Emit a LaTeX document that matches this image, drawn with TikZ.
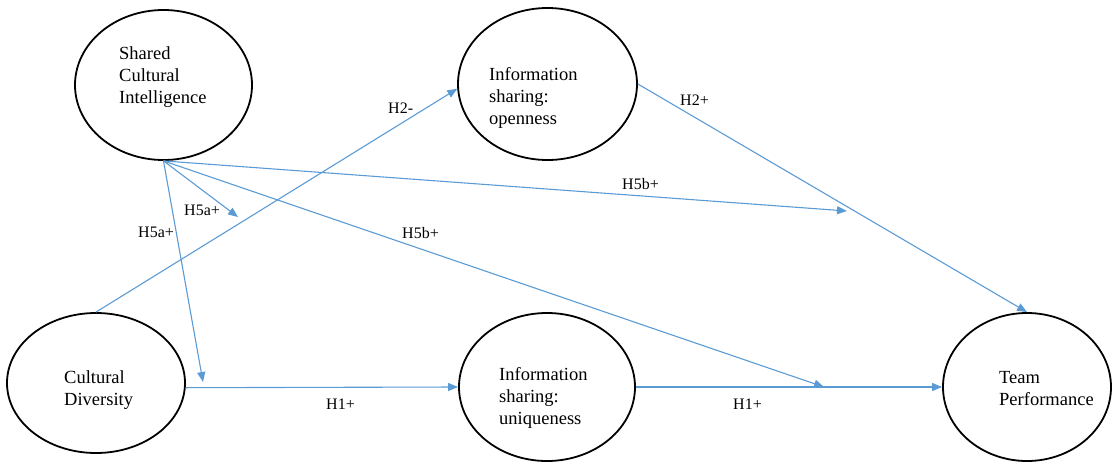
\documentclass[tikz,border=0pt]{standalone}
\usepackage{fontspec}
\setmainfont{Liberation Serif}
\usetikzlibrary{shapes.geometric,arrows.meta}
\definecolor{linkblue}{RGB}{91,155,213}
\tikzset{
  construct/.style={ellipse,draw=black,line width=1.8pt,inner sep=0pt},
  ctext/.style={anchor=west,inner sep=0pt,align=left,font=\fontsize{18.5}{22}\selectfont},
  hyp/.style={anchor=base west,inner sep=0pt,font=\fontsize{16}{19}\selectfont},
  link/.style={draw=linkblue,line width=1.1pt,-{Triangle[length=10pt,width=8pt]}}
}
\begin{document}
\begin{tikzpicture}[x=1pt,y=-1pt]
\useasboundingbox (0,0) rectangle (1112,464);
% constructs
\node[construct,minimum width=177pt,minimum height=150pt] (sci) at (163.5,85) {};
\node[construct,minimum width=179pt,minimum height=152pt] (open) at (547.5,84) {};
\node[construct,minimum width=178pt,minimum height=140pt] (cd) at (96,383) {};
\node[construct,minimum width=176pt,minimum height=148pt] (uniq) at (547,387) {};
\node[construct,minimum width=168pt,minimum height=148pt] (tp) at (1027,387) {};
% texts
\node[ctext] (sciT) at (119,76.6) {\strut Shared\\Cultural\\Intelligence\strut};
\node[ctext] (openT) at (489,97.6) {\strut Information\\sharing:\\openness\strut};
\node[ctext] (cdT) at (64,389.6) {\strut Cultural\\Diversity\strut};
\node[ctext] (uniqT) at (499,397.6) {\strut Information\\sharing:\\uniqueness\strut};
\node[ctext] (tpT) at (999,389.6) {\strut Team\\Performance\strut};
% moderation targets
\coordinate (t5a1) at (203,382);
\coordinate (t5a2) at (238,217);
\coordinate (t5b1) at (847,211);
\coordinate (t5b2) at (824,387);
% connectors
\draw[link] (cd.north) -- (open.183);
\draw[link] (open.east) -- (tp.north);
\draw[link] (cd.-3) -- (uniq.west);
\draw[link] (uniq.east) -- (tp.west);
\draw[link] (sci.south) -- (t5a1);
\draw[link] (sci.south) -- (t5a2);
\draw[link] (sci.south) -- (t5b1);
\draw[link] (sci.south) -- (t5b2);
% labels
\node[hyp] (lh2m) at (388,113) {H2-};
\node[hyp] (lh2p) at (680,105) {H2+};
\node[hyp] (lh5b1) at (622,189) {H5b+};
\node[hyp] (lh5b2) at (402,238) {H5b+};
\node[hyp] (lh5a1) at (184,215) {H5a+};
\node[hyp] (lh5a2) at (138,237) {H5a+};
\node[hyp] (lh1a) at (326,409) {H1+};
\node[hyp] (lh1b) at (733,409) {H1+};
\end{tikzpicture}
\end{document}
